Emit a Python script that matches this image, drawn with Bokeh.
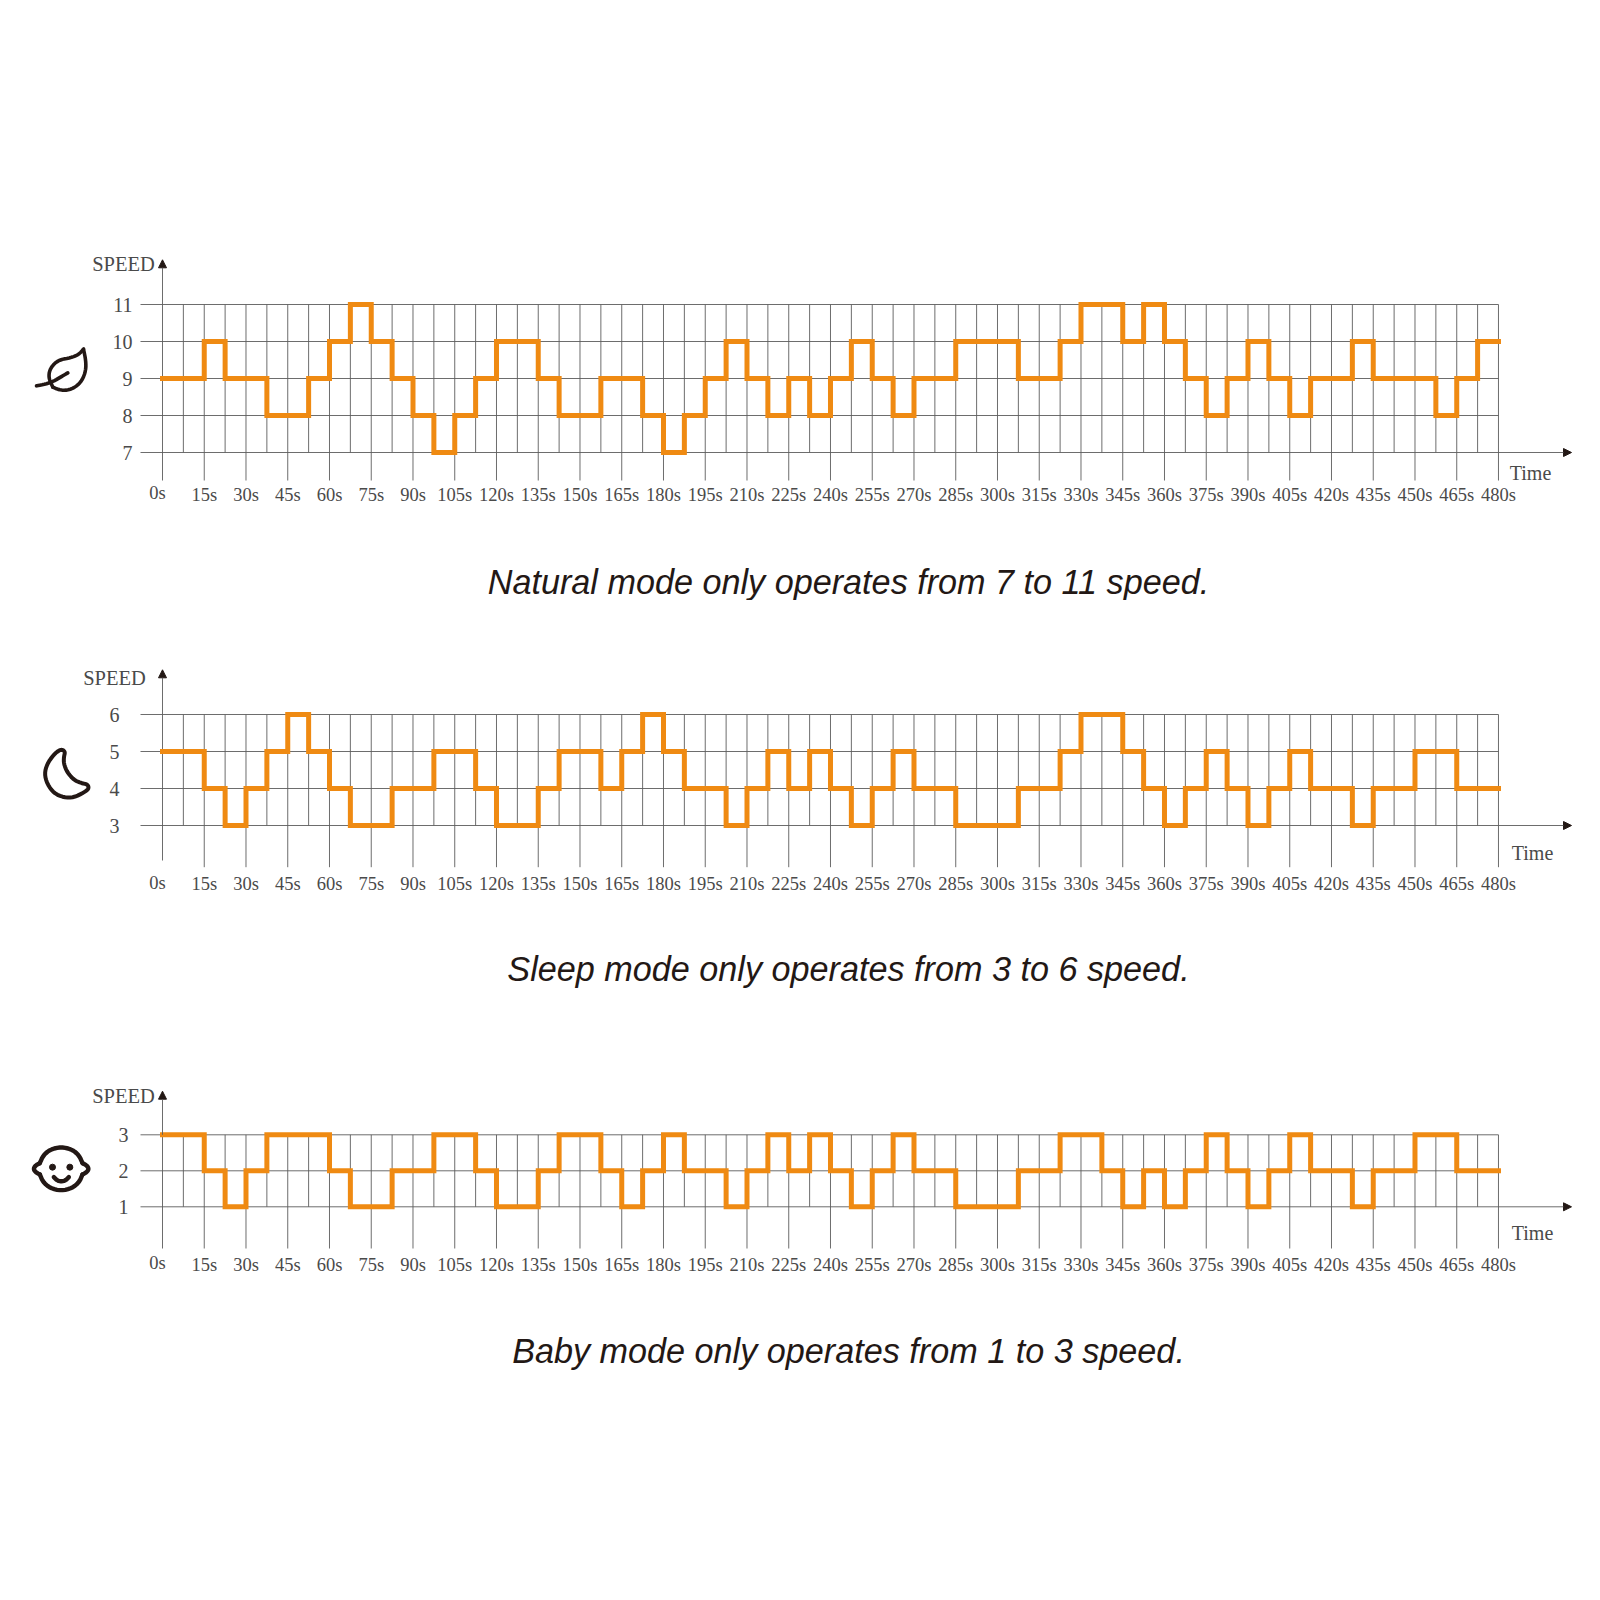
from bokeh.core.properties import value
from bokeh.embed import file_html
from bokeh.layouts import column
from bokeh.models import Arrow, FixedTicker, NormalHead, Range1d
from bokeh.plotting import figure
from bokeh.resources import INLINE

# one value per 7.5 s step
natural_speed = [9, 9, 10, 9, 9, 8, 8, 9, 10, 11, 10, 9, 8, 7, 8, 9,
                 10, 10, 9, 8, 8, 9, 9, 8, 7, 8, 9, 10, 9, 8, 9, 8,
                 9, 10, 9, 8, 9, 9, 10, 10, 10, 9, 9, 10, 11, 11, 10, 11,
                 10, 9, 8, 9, 10, 9, 8, 9, 9, 10, 9, 9, 9, 8, 9, 10]
sleep_speed = [5, 5, 4, 3, 4, 5, 6, 5, 4, 3, 3, 4, 4, 5, 5, 4,
               3, 3, 4, 5, 5, 4, 5, 6, 5, 4, 4, 3, 4, 5, 4, 5,
               4, 3, 4, 5, 4, 4, 3, 3, 3, 4, 4, 5, 6, 6, 5, 4,
               3, 4, 5, 4, 3, 4, 5, 4, 4, 3, 4, 4, 5, 5, 4, 4]
baby_speed = [3, 3, 2, 1, 2, 3, 3, 3, 2, 1, 1, 2, 2, 3, 3, 2,
              1, 1, 2, 3, 3, 2, 1, 2, 3, 2, 2, 1, 2, 3, 2, 3,
              2, 1, 2, 3, 2, 2, 1, 1, 1, 2, 2, 3, 3, 2, 1, 2,
              1, 2, 3, 2, 1, 2, 3, 2, 2, 1, 2, 2, 3, 3, 2, 2]

tick_seconds = [0, 15, 30, 45, 60, 75, 90, 105, 120, 135, 150, 165, 180, 195, 210, 225, 240,
                255, 270, 285, 300, 315, 330, 345, 360, 375, 390, 405, 420, 435, 450, 465, 480]
tick_labels = ["0s", "15s", "30s", "45s", "60s", "75s", "90s", "105s", "120s", "135s", "150s",
               "165s", "180s", "195s", "210s", "225s", "240s", "255s", "270s", "285s", "300s",
               "315s", "330s", "345s", "360s", "375s", "390s", "405s", "420s", "435s", "450s",
               "465s", "480s"]

natural_levels = [7, 8, 9, 10, 11]
sleep_levels = [3, 4, 5, 6]
baby_levels = [1, 2, 3]

natural_caption = "Natural mode only operates from 7 to 11 speed."
sleep_caption = "Sleep mode only operates from 3 to 6 speed."
baby_caption = "Baby mode only operates from 1 to 3 speed."

ORANGE = "#EF8A12"
GRID = "#5c5c5c"
TEXT = "#4a4a4a"
DARK = "#231815"
SERIF = "Liberation Serif"

X0 = 162
PX_PER_S = 2.7833
STEP = 7.5


def smooth(points, closed=False, rounds=2):
    # corner cutting so the hand traced icons do not look faceted
    for _ in range(rounds):
        out = [] if closed else [points[0]]
        n = len(points)
        for i in range(n if closed else n - 1):
            a, b = points[i], points[(i + 1) % n]
            out.append((0.75 * a[0] + 0.25 * b[0], 0.75 * a[1] + 0.25 * b[1]))
            out.append((0.25 * a[0] + 0.75 * b[0], 0.25 * a[1] + 0.75 * b[1]))
        if not closed:
            out.append(points[-1])
        points = out
    return points


def icon_line(p, pts, ox, oy, closed=False, width=3.6):
    pts = smooth(pts, closed)
    if closed:
        pts = pts + [pts[0]]
    p.line([ox + a / 3 for a, b in pts], [oy + b / 3 for a, b in pts], line_color=DARK,
           line_width=width, line_cap="round", line_join="round", x_range_name="px", y_range_name="py")


def draw_leaf(p):
    body = [(82, 140), (100, 148), (125, 150), (150, 140), (170, 120), (181, 90), (181, 60), (174, 26)]
    back = [(174, 26), (160, 42), (135, 52), (105, 57), (85, 70), (72, 90), (70, 110), (75, 125), (82, 140)]
    vein = [(33, 136), (60, 131), (85, 122), (105, 110), (127, 97)]
    for pts in (body, back, vein):
        icon_line(p, pts, 25, 340)


def draw_moon(p):
    moon = [(95, 27), (104, 34), (100, 50), (100, 70), (110, 95), (130, 118), (150, 127), (172, 132),
            (175, 145), (160, 156), (130, 171), (100, 171), (70, 158), (50, 130), (42, 100), (50, 70),
            (70, 42), (85, 30)]
    icon_line(p, moon, 30, 740, closed=True, width=4)


def draw_baby(p):
    top_arc = [(58, 83), (68, 60), (89, 42), (122, 34), (155, 42), (176, 60), (186, 83)]
    low_arc = [(58, 117), (68, 140), (89, 158), (122, 166), (155, 158), (176, 140), (186, 117)]
    left_ear = [(58, 83), (45, 90), (39, 100), (45, 110), (58, 117)]
    right_ear = [(186, 83), (199, 90), (205, 100), (199, 110), (186, 117)]
    smile = [(100, 125), (110, 135), (122, 138), (135, 135), (145, 125)]
    for pts in (top_arc, low_arc, left_ear, right_ear, smile):
        icon_line(p, pts, 20, 1135, width=4.4)
    p.scatter([20 + 96 / 3, 20 + 148 / 3], [1135 + 95 / 3, 1135 + 95 / 3], size=6, color=DARK,
              x_range_name="px", y_range_name="py")


def put_text(p, x, y, text, size=20, color=TEXT, font=SERIF, style="normal", align="center"):
    p.text([x], [y], text=[text], text_font=value(font), text_font_size=f"{size}px", text_color=color,
           text_font_style=style, text_align=align, text_baseline="middle",
           x_range_name="px", y_range_name="py")


def make_panel(speed, levels, caption, icon, top, bottom, y_hi, unit, drop, zero_drop, arrow_top,
               speed_x, speed_y, time_x, time_y, label_y, standoff, y_standoff, caption_y):
    # top/bottom are the page rows the figure covers, y_hi the row of the highest level
    hi, lo = max(levels), min(levels)
    y_lo = y_hi + (hi - lo) * unit
    to_value = lambda row: hi - (row - y_hi) / unit

    p = figure(width=1584, height=bottom - top, output_backend="svg", toolbar_location=None,
               x_range=Range1d((0 - X0) / PX_PER_S, (1584 - X0) / PX_PER_S),
               y_range=Range1d(to_value(bottom), to_value(top)),
               min_border=0, outline_line_color=None)
    p.extra_x_ranges["px"] = Range1d(0, 1584)
    p.extra_y_ranges["py"] = Range1d(bottom, top)
    p.grid.visible = False

    times = [i * STEP for i in range(len(speed) + 1)]
    minor = [t for t in times if t not in tick_seconds]
    major = tick_seconds[1:]
    left = (140 - X0) / PX_PER_S

    p.segment(x0=minor, y0=[lo] * len(minor), x1=minor, y1=[hi] * len(minor), line_color=GRID, line_width=0.9)
    p.segment(x0=major, y0=[to_value(drop)] * len(major), x1=major, y1=[hi] * len(major),
              line_color=GRID, line_width=0.9)
    p.segment(x0=[0], y0=[to_value(zero_drop)], x1=[0], y1=[hi], line_color=GRID, line_width=0.9)
    p.segment(x0=[left] * len(levels), y0=levels, x1=[480] * len(levels), y1=levels,
              line_color=GRID, line_width=0.9)

    head = dict(size=8, fill_color=DARK, line_color=DARK)
    p.add_layout(Arrow(end=NormalHead(**head), x_start=X0, y_start=y_hi, x_end=X0, y_end=arrow_top,
                       line_color=GRID, line_width=0.9, x_range_name="px", y_range_name="py"))
    p.add_layout(Arrow(end=NormalHead(**head), x_start=X0 + 480 * PX_PER_S, y_start=y_lo, x_end=1571, y_end=y_lo,
                       line_color=GRID, line_width=0.9, x_range_name="px", y_range_name="py"))

    p.step(times, speed + [speed[-1]], mode="after", line_color=ORANGE, line_width=5,
           line_join="miter", line_cap="square")

    p.xaxis.fixed_location = to_value(drop)
    p.xaxis.ticker = FixedTicker(ticks=major)
    p.xaxis.major_label_overrides = dict(zip(major, tick_labels[1:]))
    p.yaxis.fixed_location = left
    p.yaxis.ticker = FixedTicker(ticks=levels)
    for axis, off in ((p.xaxis, standoff), (p.yaxis, y_standoff)):
        axis.axis_line_color = None
        axis.major_tick_line_color = None
        axis.minor_tick_line_color = None
        axis.major_tick_out = 0
        axis.major_label_standoff = off
        axis.major_label_text_font = SERIF
        axis.major_label_text_color = TEXT
    p.xaxis.major_label_text_font_size = "18.5px"
    p.yaxis.major_label_text_font_size = "20px"

    put_text(p, 157, label_y - 2, tick_labels[0], size=18.5)
    put_text(p, speed_x, speed_y, "SPEED", size=20.5)
    put_text(p, time_x, time_y, "Time")
    put_text(p, 848, caption_y, caption, size=34.2, color=DARK, font="Liberation Sans", style="italic")
    icon(p)
    return p


p1 = make_panel(natural_speed, natural_levels, natural_caption, draw_leaf, 0, 600, 304, 37, 480, 480, 259.3,
                123, 263.5, 1530, 472, 494, 4, 8, 581)
p2 = make_panel(sleep_speed, sleep_levels, sleep_caption, draw_moon, 600, 1000, 714, 37, 866.7, 860, 669.3,
                114, 677, 1532, 852.7, 884, 7, 21, 968)
p3 = make_panel(baby_speed, baby_levels, baby_caption, draw_baby, 1000, 1584, 1134.3, 36, 1248, 1248, 1090.7,
                123, 1095, 1532, 1232.5, 1264, 6, 12, 1350)

layout = column(p1, p2, p3, spacing=0)
open("out.html", "w").write(file_html(layout, INLINE))
